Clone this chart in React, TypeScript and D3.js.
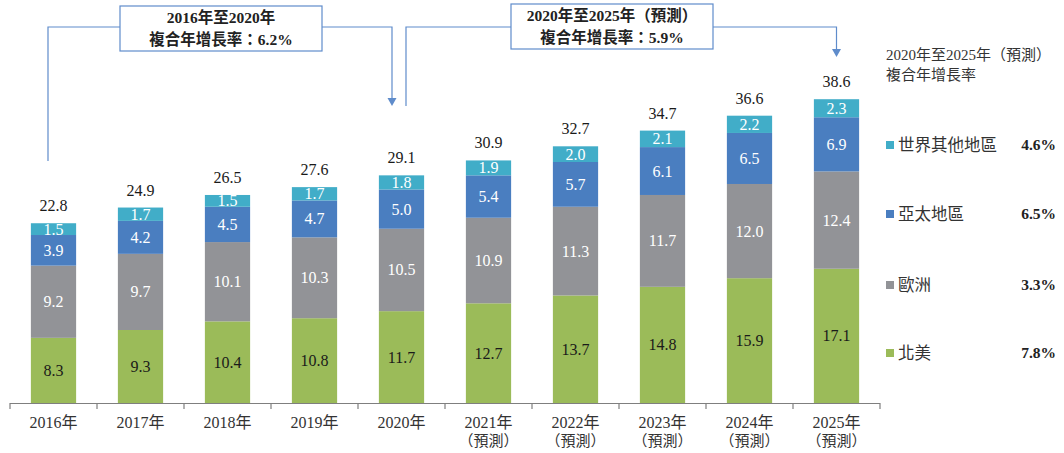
import React from "react";
import * as d3 from "d3";

const categories = ["2016年", "2017年", "2018年", "2019年", "2020年", "2021年", "2022年", "2023年", "2024年", "2025年"];
const forecast = [false, false, false, false, false, true, true, true, true, true];
const northAmerica = [8.3, 9.3, 10.4, 10.8, 11.7, 12.7, 13.7, 14.8, 15.9, 17.1];
const europe = [9.2, 9.7, 10.1, 10.3, 10.5, 10.9, 11.3, 11.7, 12.0, 12.4];
const asiaPacific = [3.9, 4.2, 4.5, 4.7, 5.0, 5.4, 5.7, 6.1, 6.5, 6.9];
const restOfWorld = [1.5, 1.7, 1.5, 1.7, 1.8, 1.9, 2.0, 2.1, 2.2, 2.3];
const totals = [22.8, 24.9, 26.5, 27.6, 29.1, 30.9, 32.7, 34.7, 36.6, 38.6];

const seriesNames = ["北美", "歐洲", "亞太地區", "世界其他地區"];
const seriesCagr = ["7.8%", "3.3%", "6.5%", "4.6%"];
const seriesColors = ["#9BBB59", "#929397", "#4A7EC0", "#41ADC8"];
const labelColors = ["#1a1a1a", "#ffffff", "#ffffff", "#ffffff"];
const seriesValues = [northAmerica, europe, asiaPacific, restOfWorld];

const W = 1064;
const H = 453;
const FONT = "'Liberation Serif', 'Times New Roman', 'Noto Sans CJK TC', serif";
const LINE = "#5F8CCB";

export default function App() {
  const x = d3.scaleBand<string>().domain(categories).range([10, 880]).paddingInner(0.48).paddingOuter(0.24);
  const band = d3.scaleBand<string>().domain(categories).range([10, 880]);
  const y = d3.scaleLinear().domain([0, 40]).range([403, 89]);

  const rows = categories.map((c, i) => {
    const o: any = { cat: c };
    seriesNames.forEach((s, k) => (o[s] = seriesValues[k][i]));
    return o;
  });
  const stack = d3.stack<any>().keys(seriesNames)(rows);

  const legendY = [353, 285, 214, 145];

  return (
    <svg width={W} height={H} style={{ position: "absolute", left: 0, top: 0, background: "#fff" }} fontFamily={FONT}>
      {/* bars */}
      {stack.map((layer, k) => (
        <g key={k}>
          {layer.map((d, i) => {
            const x0 = x(categories[i])!;
            const y0 = y(d[1]);
            const h = y(d[0]) - y(d[1]);
            return (
              <g key={i}>
                <rect x={x0} y={y0} width={x.bandwidth()} height={h} fill={seriesColors[k]} />
                <text
                  x={x0 + x.bandwidth() / 2}
                  y={y0 + h / 2 + 5.5}
                  textAnchor="middle"
                  fontSize={16}
                  fill={labelColors[k]}
                >
                  {seriesValues[k][i].toFixed(1)}
                </text>
              </g>
            );
          })}
        </g>
      ))}
      {/* totals */}
      {categories.map((c, i) => (
        <text key={c} x={x(c)! + x.bandwidth() / 2} y={y(stack[3][i][1]) - 12} textAnchor="middle" fontSize={16} fill="#1a1a1a">
          {totals[i].toFixed(1)}
        </text>
      ))}
      {/* axis */}
      <line x1={10} x2={880} y1={403.5} y2={403.5} stroke="#7f7f7f" strokeWidth={1.2} />
      {d3.range(categories.length + 1).map((i) => {
        const tx = i < categories.length ? band(categories[i])! : 880;
        return <line key={i} x1={tx} x2={tx} y1={403} y2={409} stroke="#7f7f7f" strokeWidth={1.2} />;
      })}
      {categories.map((c, i) => (
        <g key={c}>
          <text x={band(c)! + band.bandwidth() / 2} y={428} textAnchor="middle" fontSize={16} fill="#333">
            {c}
          </text>
          {forecast[i] && (
            <text x={band(c)! + band.bandwidth() / 2} y={446} textAnchor="middle" fontSize={15} fill="#333">
              （預測）
            </text>
          )}
        </g>
      ))}

      {/* annotation 1 */}
      <polyline points="48,161 48,27 120,27" fill="none" stroke={LINE} strokeWidth={1.2} />
      <polyline points="322,27 392,27 392,99" fill="none" stroke={LINE} strokeWidth={1.2} />
      <path d="M387.5,98 L396.5,98 L392,106 Z" fill={LINE} />
      <rect x={120} y={6} width={202} height={45} fill="#fff" stroke={LINE} strokeWidth={1.2} />
      <text x={221} y={23} textAnchor="middle" fontSize={15.5} fontWeight="bold" fill="#222">2016年至2020年</text>
      <text x={221} y={45} textAnchor="middle" fontSize={15.5} fontWeight="bold" fill="#222">複合年增長率：6.2%</text>

      {/* annotation 2 */}
      <polyline points="406,106 406,27 511,27" fill="none" stroke={LINE} strokeWidth={1.2} />
      <polyline points="713,27 836.5,27 836.5,49" fill="none" stroke={LINE} strokeWidth={1.2} />
      <path d="M832,49 L841,49 L836.5,57 Z" fill={LINE} />
      <rect x={511} y={4} width={202} height={45} fill="#fff" stroke={LINE} strokeWidth={1.2} />
      <text x={612} y={21} textAnchor="middle" fontSize={15.5} fontWeight="bold" fill="#222">2020年至2025年（預測）</text>
      <text x={612} y={43} textAnchor="middle" fontSize={15.5} fontWeight="bold" fill="#222">複合年增長率：5.9%</text>

      {/* legend */}
      <text x={886} y={60} fontSize={15} fill="#333">2020年至2025年（預測）</text>
      <text x={886} y={80} fontSize={15} fill="#333">複合年增長率</text>
      {seriesNames.map((s, k) => (
        <g key={s}>
          <rect x={886} y={legendY[k] - 4} width={8} height={8} fill={seriesColors[k]} />
          <text x={898} y={legendY[k] + 6} fontSize={16.5} fill="#333">{s}</text>
          <text x={1056} y={legendY[k] + 5} fontSize={15.5} fontWeight="bold" textAnchor="end" fill="#222">{seriesCagr[k]}</text>
        </g>
      ))}
    </svg>
  );
}
